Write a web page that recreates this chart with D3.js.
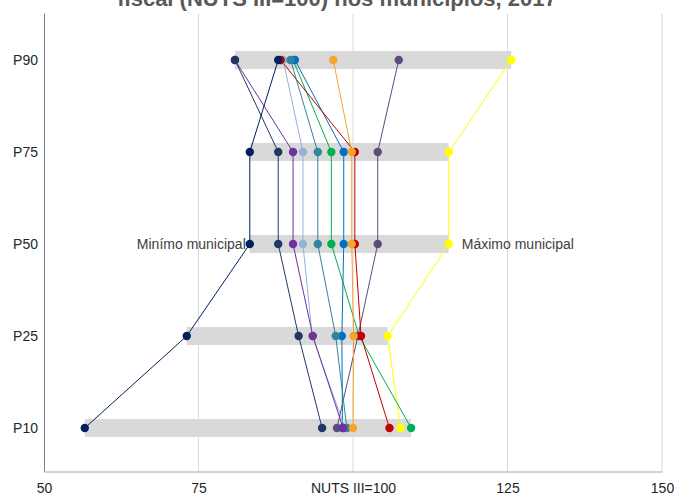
<!DOCTYPE html>
<html>
<head>
<meta charset="utf-8">
<script src="https://cdn.jsdelivr.net/npm/d3@7"></script>
<style>
	body { margin: 0; background: #fff; }
	text { font-family: "Liberation Sans", Arial, sans-serif; }
</style>
</head>
<body>
<div id="chart_disp"></div>
<script>
// percentiles (rows, top to bottom)
var percentis = ["P90", "P75", "P50", "P25", "P10"];

// x axis ticks
var tick_values = [50, 75, 100, 125, 150];
var tick_labels = ["50", "75", "NUTS III=100", "125", "150"];

// one value per percentile, same order as percentis
var s_amarelo   = [125.6, 115.5, 115.5, 105.6, 107.7];
var s_verde     = [90.3, 96.5, 96.5, 101.0, 109.4];
var s_ameixa    = [107.4, 104.0, 104.0, 100.8, 97.4];
var s_azul      = [90.6, 98.5, 98.5, 98.2, 98.3];
var s_azulclaro = [88.7, 91.9, 91.9, 93.4, 98.7];
var s_vermelho  = [88.3, 100.3, 100.3, 101.3, 105.9];
var s_petroleo  = [89.9, 94.3, 94.3, 97.2, 99.0];
var s_roxo      = [80.9, 90.3, 90.3, 93.5, 98.4];
var s_laranja   = [96.8, 99.8, 99.8, 100.1, 100.0];
var s_azulesc   = [80.9, 87.9, 87.9, 91.2, 95.0];
var s_marinho   = [87.9, 83.3, 83.3, 73.1, 56.6];

var series = [
	{vals: s_amarelo,   cor: "#FFFF00"},
	{vals: s_verde,     cor: "#00B050"},
	{vals: s_ameixa,    cor: "#604A7B"},
	{vals: s_azul,      cor: "#0070C0"},
	{vals: s_azulclaro, cor: "#95B3D7"},
	{vals: s_vermelho,  cor: "#C00000"},
	{vals: s_petroleo,  cor: "#31849B"},
	{vals: s_roxo,      cor: "#7030A0"},
	{vals: s_laranja,   cor: "#F6A32B"},
	{vals: s_azulesc,   cor: "#1F3864"},
	{vals: s_marinho,   cor: "#002060"}
];

function draw() {
	"use strict"

	var container_dimensions = {width: 675, height: 495},
		margins = {top: 13.5, right: 13, bottom: 23.5, left: 44},
		chart_dimensions = {
		width: container_dimensions.width - margins.left - margins.right,
		height: container_dimensions.height - margins.top - margins.bottom};

	var svg = d3.select("#chart_disp")
		.append("svg")
			.attr("width", container_dimensions.width)
			.attr("height", container_dimensions.height);

	// title (first line is out of the picture)
	svg.append("text")
		.attr("x", 337)
		.attr("y", 6)
		.attr("text-anchor", "middle")
		.style("font-size", "22px")
		.style("font-weight", "bold")
		.style("fill", "#595959")
		.text("fiscal (NUTS III=100) nos municípios, 2017");

	var chart = svg.append("g")
		.attr("transform", "translate(" + margins.left + "," + margins.top + ")");

	var x = d3.scaleLinear()
		.domain([50, 150])
		.range([0, chart_dimensions.width]);

	// row centres
	var y = d3.scalePoint()
		.domain(percentis)
		.range([46.5, 414.5]);

	var yc = function(p){ return y(p) };

	// vertical gridlines
	chart.selectAll("line.grid")
		.data(tick_values.slice(1))
		.enter()
		.append("line")
			.attr("class", "grid")
			.attr("x1", function(d){return x(d)})
			.attr("x2", function(d){return x(d)})
			.attr("y1", 0)
			.attr("y2", chart_dimensions.height)
			.attr("stroke", "#D9D9D9")
			.attr("stroke-width", 1);

	// grey range bars, min to max of each percentile
	var rows = percentis.map(function(p, i){
		var v = series.map(function(s){return s.vals[i]});
		return {p: p, min: d3.min(v), max: d3.max(v)};
	});

	var bar_h = 18;
	chart.selectAll("rect.range")
		.data(rows)
		.enter()
		.append("rect")
			.attr("class", "range")
			.attr("x", function(d){return x(d.min)})
			.attr("width", function(d){return x(d.max) - x(d.min)})
			.attr("y", function(d){return yc(d.p) - bar_h / 2})
			.attr("height", bar_h)
			.attr("fill", "#D9D9D9");

	// axes
	var x_axis = d3.axisBottom(x)
		.tickValues(tick_values)
		.tickSize(0)
		.tickPadding(12)
		.tickFormat(function(d, i){return tick_labels[i]});

	var gx = chart.append("g")
		.attr("transform", "translate(0," + chart_dimensions.height + ")")
		.call(x_axis);
	gx.select(".domain").attr("stroke", "#A6A6A6");
	gx.selectAll("text")
		.style("font-size", "14px")
		.style("font-family", "'Liberation Sans', Arial, sans-serif")
		.attr("fill", "#262626");

	var y_axis = d3.axisLeft(y)
		.tickSize(0)
		.tickPadding(6);

	var gy = chart.append("g").call(y_axis);
	gy.select(".domain")
		.attr("d", "M0.5,0V" + chart_dimensions.height)
		.attr("stroke", "#7F7F7F");
	gy.selectAll("text")
		.style("font-size", "14px")
		.style("font-family", "'Liberation Sans', Arial, sans-serif")
		.attr("fill", "#262626");

	// lines connecting each municipality over the percentiles
	var line = d3.line()
		.x(function(d){return x(d.v)})
		.y(function(d){return yc(d.p)});

	var pts = function(s){
		return s.vals.map(function(v, i){return {v: v, p: percentis[i], cor: s.cor}});
	};

	chart.selectAll("path.serie")
		.data(series)
		.enter()
		.append("path")
			.attr("class", "serie")
			.attr("d", function(d){return line(pts(d))})
			.attr("fill", "none")
			.attr("stroke", function(d){return d.cor})
			.attr("stroke-width", 1);

	// markers
	series.forEach(function(s){
		chart.selectAll(null)
			.data(pts(s))
			.enter()
			.append("circle")
				.attr("cx", function(d){return x(d.v)})
				.attr("cy", function(d){return yc(d.p)})
				.attr("r", 4.2)
				.attr("fill", s.cor);
	});

	// min / max labels on the P50 row
	var p50 = rows[2];
	chart.append("text")
		.attr("x", x(p50.min) - 4)
		.attr("y", yc("P50") + 5)
		.attr("text-anchor", "end")
		.style("font-size", "14px")
		.style("fill", "#404040")
		.text("Minímo municipal");

	chart.append("text")
		.attr("x", x(p50.max) + 13)
		.attr("y", yc("P50") + 5)
		.style("font-size", "14px")
		.style("fill", "#404040")
		.text("Máximo municipal");

}; // end of draw

draw();
</script>
</body>
</html>
